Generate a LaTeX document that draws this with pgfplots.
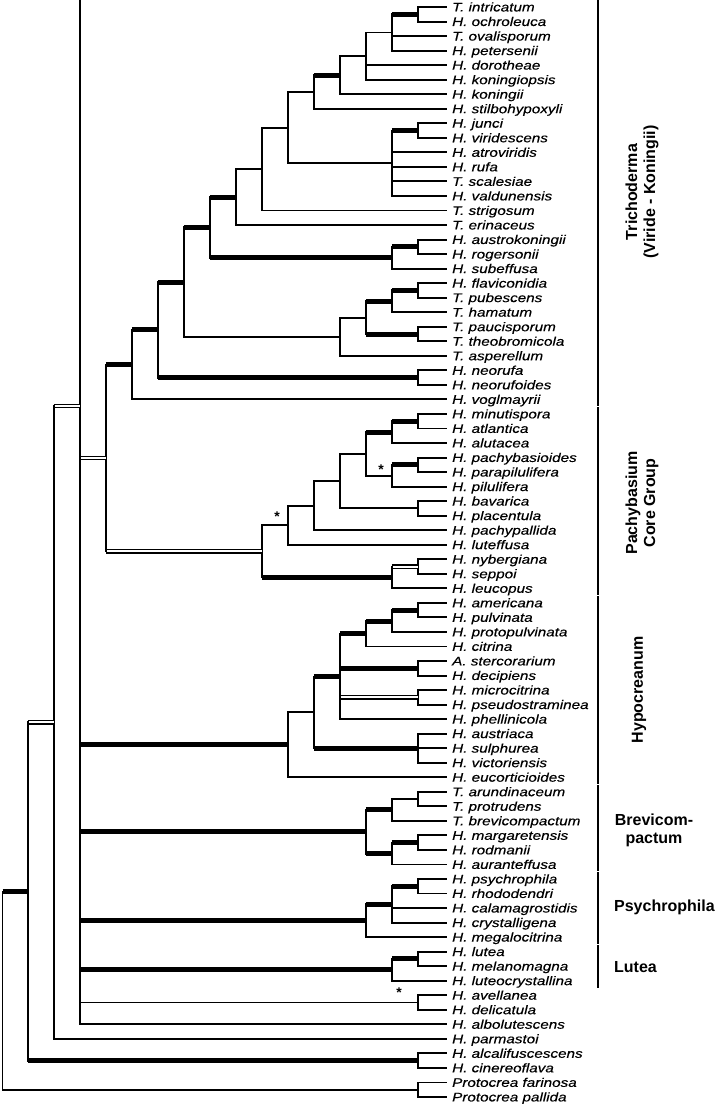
\documentclass[border=0pt]{standalone}
\usepackage{fontspec}
\setmainfont{Liberation Sans}
\newfontfamily\labfont[FakeStretch=1.22, FakeBold=0.35]{Liberation Sans}
\usepackage{pgfplots}
\pgfplotsset{compat=1.18}
\tikzset{
 br/.style={black, line width=1.9pt, line cap=rect},
 bk/.style={black, line width=5pt, line cap=butt},
 db/.style={black, line width=1.5pt, double=white, double distance=1.9pt, line cap=butt},
}
\newcommand{\hz}[4]{\addplot[#1] coordinates {(#2,#4) (#3,#4)};}
\newcommand{\vt}[3]{\addplot[br] coordinates {(#1,#2) (#1,#3)};}
\newcommand{\lf}[2]{\node[anchor=base west, inner sep=0pt, font=\labfont\fontsize{12.5}{13}\selectfont\itshape, yshift=-4.4pt] at (axis cs:451,#1) {#2};}
\newcommand{\cl}{\fontsize{16}{18}\selectfont\bfseries}
\newcommand{\astr}[2]{\node[inner sep=0pt, font=\fontsize{14}{14}\selectfont\bfseries] at (axis cs:#1,#2) {*};}
\begin{document}
\begin{tikzpicture}
\begin{axis}[hide axis, scale only axis, width=718pt, height=1104pt,
  xmin=0, xmax=718, ymin=0, ymax=1104, y dir=reverse, clip=false, no markers]
\addplot[draw=none] coordinates {(0,0) (718,1104)};
% ---------- leaf tips ----------
\hz{br}{417}{445}{7.00}
\hz{br}{417}{445}{21.53}
\hz{br}{391}{445}{36.07}
\hz{br}{391}{445}{50.60}
\hz{br}{365}{445}{65.13}
\hz{br}{365}{445}{79.67}
\hz{br}{339}{445}{94.20}
\hz{br}{313}{445}{108.73}
\hz{br}{417}{445}{123.26}
\hz{br}{417}{445}{137.80}
\hz{br}{391}{445}{152.33}
\hz{br}{391}{445}{166.86}
\hz{br}{391}{445}{181.40}
\hz{br}{391}{445}{195.93}
\hz{br}{261}{445}{210.46}
\hz{br}{235}{445}{225.00}
\hz{br}{417}{445}{239.53}
\hz{br}{417}{445}{254.06}
\hz{br}{391}{445}{268.59}
\hz{br}{417}{445}{283.13}
\hz{br}{417}{445}{297.66}
\hz{br}{391}{445}{312.19}
\hz{br}{417}{445}{326.73}
\hz{br}{417}{445}{341.26}
\hz{br}{339}{445}{355.79}
\hz{br}{417}{445}{370.33}
\hz{br}{417}{445}{384.86}
\hz{br}{131}{445}{399.39}
\hz{br}{417}{445}{413.92}
\hz{br}{417}{445}{428.46}
\hz{br}{391}{445}{442.99}
\hz{br}{417}{445}{457.52}
\hz{br}{417}{445}{472.06}
\hz{br}{391}{445}{486.59}
\hz{br}{417}{445}{501.12}
\hz{br}{417}{445}{515.66}
\hz{br}{313}{445}{530.19}
\hz{br}{287}{445}{544.72}
\hz{br}{417}{445}{559.25}
\hz{br}{417}{445}{573.79}
\hz{br}{391}{445}{588.32}
\hz{br}{417}{445}{602.85}
\hz{br}{417}{445}{617.39}
\hz{br}{391}{445}{631.92}
\hz{br}{365}{445}{646.45}
\hz{br}{417}{445}{660.99}
\hz{br}{417}{445}{675.52}
\hz{br}{417}{445}{690.05}
\hz{br}{417}{445}{704.58}
\hz{br}{339}{445}{719.12}
\hz{br}{417}{445}{733.65}
\hz{br}{417}{445}{748.18}
\hz{br}{417}{445}{762.72}
\hz{br}{287}{445}{777.25}
\hz{br}{417}{445}{791.78}
\hz{br}{417}{445}{806.32}
\hz{br}{391}{445}{820.85}
\hz{br}{417}{445}{835.38}
\hz{br}{417}{445}{849.91}
\hz{br}{391}{445}{864.45}
\hz{br}{417}{445}{878.98}
\hz{br}{417}{445}{893.51}
\hz{br}{391}{445}{908.05}
\hz{br}{391}{445}{922.58}
\hz{br}{365}{445}{937.11}
\hz{br}{417}{445}{951.65}
\hz{br}{417}{445}{966.18}
\hz{br}{391}{445}{980.71}
\hz{br}{417}{445}{995.24}
\hz{br}{417}{445}{1009.78}
\hz{br}{79}{445}{1024.31}
\hz{br}{53}{445}{1038.84}
\hz{br}{417}{445}{1053.38}
\hz{br}{417}{445}{1067.91}
\hz{br}{417}{445}{1082.44}
\hz{br}{417}{445}{1096.98}
% ---------- Trichoderma ----------
\vt{417}{7.00}{21.53}     \hz{bk}{391}{417}{14.27}
\vt{391}{14.27}{50.60}    \hz{br}{365}{391}{32.43}
\vt{365}{32.43}{79.67}    \hz{br}{339}{365}{56.05}
\vt{339}{56.05}{94.20}    \hz{bk}{313}{339}{75.13}
\vt{313}{75.13}{108.73}   \hz{br}{287}{313}{91.93}
\vt{417}{123.26}{137.80}  \hz{bk}{391}{417}{130.53}
\vt{391}{130.53}{195.93}  \hz{br}{287}{391}{163.23}
\vt{287}{91.93}{163.23}   \hz{br}{261}{287}{127.58}
\vt{261}{127.58}{210.46}  \hz{br}{235}{261}{169.02}
\vt{235}{169.02}{225.00}  \hz{bk}{209}{235}{197.01}
\vt{417}{239.53}{254.06}  \hz{bk}{391}{417}{246.80}
\vt{391}{246.80}{268.59}  \hz{bk}{209}{391}{257.70}
\vt{209}{197.01}{257.70}  \hz{bk}{183}{209}{227.35}
\vt{417}{283.13}{297.66}  \hz{bk}{391}{417}{290.40}
\vt{391}{290.40}{312.19}  \hz{bk}{365}{391}{301.29}
\vt{417}{326.73}{341.26}  \hz{bk}{365}{417}{334.00}
\vt{365}{301.29}{334.00}  \hz{br}{339}{365}{317.64}
\vt{339}{317.64}{355.79}  \hz{br}{183}{339}{336.72}
\vt{183}{227.35}{336.72}  \hz{bk}{157}{183}{282.03}
\vt{417}{370.33}{384.86}  \hz{bk}{157}{417}{377.60}
\vt{157}{282.03}{377.60}  \hz{bk}{131}{157}{329.81}
\vt{131}{329.81}{399.39}  \hz{bk}{105}{131}{364.60}
% ---------- Pachybasium ----------
\vt{417}{413.92}{428.46}  \hz{bk}{391}{417}{421.19}
\vt{391}{421.19}{442.99}  \hz{bk}{365}{391}{432.09}
\vt{417}{457.52}{472.06}  \hz{bk}{391}{417}{464.79}
\vt{391}{464.79}{486.59}  \hz{br}{365}{391}{475.69}
\vt{365}{432.09}{475.69}  \hz{br}{339}{365}{453.89}
\vt{417}{501.12}{515.66}  \hz{br}{339}{417}{508.39}
\vt{339}{453.89}{508.39}  \hz{br}{313}{339}{481.14}
\vt{313}{481.14}{530.19}  \hz{br}{287}{313}{505.67}
\vt{287}{505.67}{544.72}  \hz{br}{261}{287}{525.19}
\vt{417}{559.25}{573.79}  \hz{db}{391}{417}{566.52}
\vt{391}{566.52}{588.32}  \hz{bk}{261}{391}{577.42}
\vt{261}{525.19}{577.42}  \hz{db}{105}{261}{551.31}
\vt{105}{364.60}{551.31}  \hz{db}{79}{105}{457.95}
% ---------- Hypocreanum ----------
\vt{417}{602.85}{617.39}  \hz{bk}{391}{417}{610.12}
\vt{391}{610.12}{631.92}  \hz{bk}{365}{391}{621.02}
\vt{365}{621.02}{646.45}  \hz{bk}{339}{365}{633.74}
\vt{417}{660.99}{675.52}  \hz{bk}{339}{417}{668.26}
\vt{417}{690.05}{704.58}  \hz{db}{339}{417}{697.32}
\vt{339}{633.74}{719.12}  \hz{bk}{313}{339}{676.43}
\vt{417}{733.65}{762.72}  \hz{bk}{313}{417}{748.18}
\vt{313}{676.43}{748.18}  \hz{br}{287}{313}{712.31}
\vt{287}{712.31}{777.25}  \hz{bk}{79}{287}{744.78}
% ---------- Brevicompactum ----------
\vt{417}{791.78}{806.32}  \hz{br}{391}{417}{799.05}
\vt{391}{799.05}{820.85}  \hz{bk}{365}{391}{809.95}
\vt{417}{835.38}{849.91}  \hz{bk}{391}{417}{842.65}
\vt{391}{842.65}{864.45}  \hz{bk}{365}{391}{853.55}
\vt{365}{809.95}{853.55}  \hz{bk}{79}{365}{831.75}
% ---------- Psychrophila ----------
\vt{417}{878.98}{893.51}  \hz{bk}{391}{417}{886.25}
\vt{391}{886.25}{922.58}  \hz{bk}{365}{391}{904.42}
\vt{365}{904.42}{937.11}  \hz{bk}{79}{365}{920.77}
% ---------- Lutea ----------
\vt{417}{951.65}{966.18}  \hz{bk}{391}{417}{958.92}
\vt{391}{958.92}{980.71}  \hz{bk}{79}{391}{969.82}
% ---------- basal ----------
\vt{417}{995.24}{1009.78} \hz{br}{79}{417}{1002.51}
\vt{79}{0.9}{1024.31}     \hz{db}{53}{79}{406.00}
\vt{53}{406.00}{1038.84}  \hz{db}{27}{53}{722.42}
\vt{417}{1053.38}{1067.91} \hz{bk}{27}{417}{1060.65}
\vt{27}{722.42}{1060.65}  \hz{bk}{1.5}{27}{891.53}
\vt{417}{1082.44}{1096.98} \hz{br}{1.5}{417}{1089.71}
\vt{1.5}{891.53}{1089.71}
% ---------- clade bars ----------
\vt{597}{1}{405}
\vt{597}{408}{594}
\vt{597}{597}{783}
\vt{597}{786}{870}
\vt{597}{873}{943}
\vt{597}{946}{987}
% ---------- asterisks ----------
\astr{276}{517}
\astr{380}{470}
\astr{398}{993}
% ---------- leaf labels ----------
\lf{7.00}{T. intricatum}
\lf{21.53}{H. ochroleuca}
\lf{36.07}{T. ovalisporum}
\lf{50.60}{H. petersenii}
\lf{65.13}{H. dorotheae}
\lf{79.67}{H. koningiopsis}
\lf{94.20}{H. koningii}
\lf{108.73}{H. stilbohypoxyli}
\lf{123.26}{H. junci}
\lf{137.80}{H. viridescens}
\lf{152.33}{H. atroviridis}
\lf{166.86}{H. rufa}
\lf{181.40}{T. scalesiae}
\lf{195.93}{H. valdunensis}
\lf{210.46}{T. strigosum}
\lf{225.00}{T. erinaceus}
\lf{239.53}{H. austrokoningii}
\lf{254.06}{H. rogersonii}
\lf{268.59}{H. subeffusa}
\lf{283.13}{H. flaviconidia}
\lf{297.66}{T. pubescens}
\lf{312.19}{T. hamatum}
\lf{326.73}{T. paucisporum}
\lf{341.26}{T. theobromicola}
\lf{355.79}{T. asperellum}
\lf{370.33}{H. neorufa}
\lf{384.86}{H. neorufoides}
\lf{399.39}{H. voglmayrii}
\lf{413.92}{H. minutispora}
\lf{428.46}{H. atlantica}
\lf{442.99}{H. alutacea}
\lf{457.52}{H. pachybasioides}
\lf{472.06}{H. parapilulifera}
\lf{486.59}{H. pilulifera}
\lf{501.12}{H. bavarica}
\lf{515.66}{H. placentula}
\lf{530.19}{H. pachypallida}
\lf{544.72}{H. luteffusa}
\lf{559.25}{H. nybergiana}
\lf{573.79}{H. seppoi}
\lf{588.32}{H. leucopus}
\lf{602.85}{H. americana}
\lf{617.39}{H. pulvinata}
\lf{631.92}{H. protopulvinata}
\lf{646.45}{H. citrina}
\lf{660.99}{A. stercorarium}
\lf{675.52}{H. decipiens}
\lf{690.05}{H. microcitrina}
\lf{704.58}{H. pseudostraminea}
\lf{719.12}{H. phellinicola}
\lf{733.65}{H. austriaca}
\lf{748.18}{H. sulphurea}
\lf{762.72}{H. victoriensis}
\lf{777.25}{H. eucorticioides}
\lf{791.78}{T. arundinaceum}
\lf{806.32}{T. protrudens}
\lf{820.85}{T. brevicompactum}
\lf{835.38}{H. margaretensis}
\lf{849.91}{H. rodmanii}
\lf{864.45}{H. auranteffusa}
\lf{878.98}{H. psychrophila}
\lf{893.51}{H. rhododendri}
\lf{908.05}{H. calamagrostidis}
\lf{922.58}{H. crystalligena}
\lf{937.11}{H. megalocitrina}
\lf{951.65}{H. lutea}
\lf{966.18}{H. melanomagna}
\lf{980.71}{H. luteocrystallina}
\lf{995.24}{H. avellanea}
\lf{1009.78}{H. delicatula}
\lf{1024.31}{H. albolutescens}
\lf{1038.84}{H. parmastoi}
\lf{1053.38}{H. alcalifuscescens}
\lf{1067.91}{H. cinereoflava}
\lf{1082.44}{Protocrea farinosa}
\lf{1096.98}{Protocrea pallida}
% ---------- clade labels ----------
\node[rotate=90, align=center, font=\cl] at (axis cs:641,192) {Trichoderma\\(Viride - Koningii)};
\node[rotate=90, align=center, font=\cl] at (axis cs:641,503) {Pachybasium\\Core Group};
\node[rotate=90, font=\cl] at (axis cs:638,690) {Hypocreanum};
\node[align=center, font=\cl] at (axis cs:653,830) {Brevicom-\\pactum};
\node[anchor=west, inner sep=0pt, font=\cl] at (axis cs:613,907) {Psychrophila};
\node[anchor=west, inner sep=0pt, font=\cl] at (axis cs:613,967) {Lutea};
\end{axis}
\end{tikzpicture}
\end{document}
